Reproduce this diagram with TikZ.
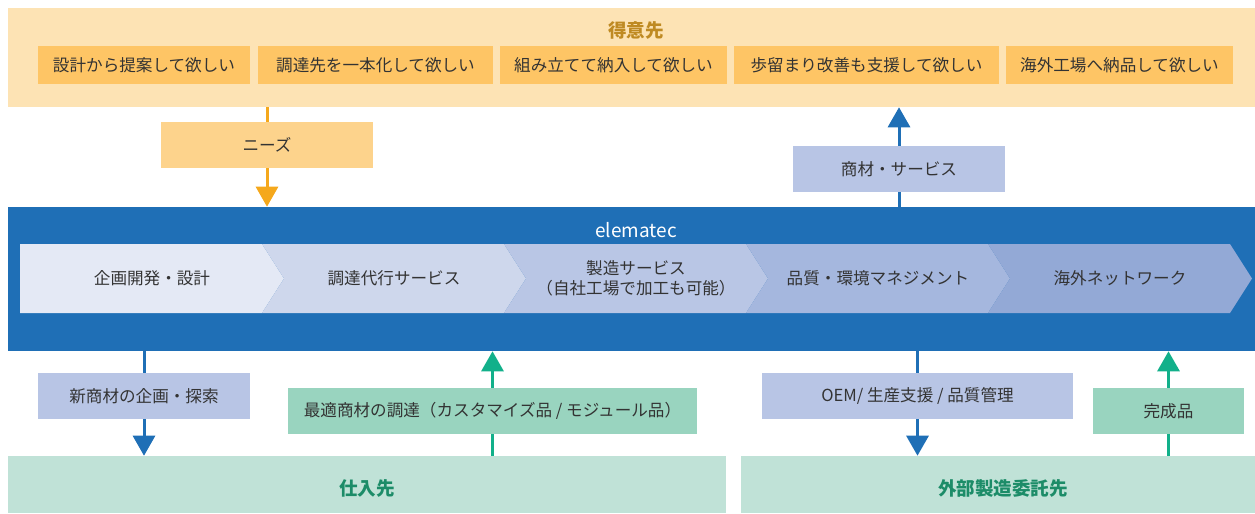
\documentclass[tikz,border=0pt]{standalone}
\usepackage{fontspec}
\setmainfont{Noto Sans CJK JP}
\usetikzlibrary{arrows.meta,backgrounds}

\definecolor{custbg}{HTML}{FDE3B4}
\definecolor{custitem}{HTML}{FEC565}
\definecolor{needfill}{HTML}{FDD38C}
\definecolor{custtitle}{HTML}{BF8A22}
\definecolor{needarrow}{HTML}{F5A81C}
\definecolor{elemblue}{HTML}{1F6FB6}
\definecolor{lavender}{HTML}{B8C5E5}
\definecolor{chevA}{HTML}{E4E9F5}
\definecolor{chevB}{HTML}{CED7EC}
\definecolor{chevC}{HTML}{B9C6E5}
\definecolor{chevD}{HTML}{A5B7DE}
\definecolor{chevE}{HTML}{93A9D6}
\definecolor{supbg}{HTML}{C0E2D7}
\definecolor{mint}{HTML}{99D4BF}
\definecolor{greenarrow}{HTML}{12B08A}
\definecolor{suptitle}{HTML}{1C8C68}
\definecolor{textgray}{HTML}{333333}

\newcommand{\px}{0.025cm}
\newcommand{\lblfont}{\fontsize{11.8pt}{14pt}\selectfont}
\newcommand{\ttlfont}{\fontsize{13.2pt}{15pt}\selectfont\bfseries}

\tikzset{
    rbox/.style={inner sep=0pt, text=textgray, font=\lblfont},
    band/.style={inner sep=0pt},
    custitembox/.style={rbox, fill=custitem, minimum height=38*\px},
    flowbox/.style={rbox, minimum height=46*\px},
    flowline/.style={line width=3*\px, -{Triangle[width=22*\px, length=20*\px]}},
}

\begin{document}
\begin{tikzpicture}[x=\px, y=-\px]
    \useasboundingbox (0,0) rectangle (1255,513);

    % customers
    \node[band, fill=custbg, minimum width=1247*\px, minimum height=99*\px] (custband) at (631.5,57.5) {};
    \node[text=custtitle, font=\ttlfont] (custtitle) at (636,30) {得意先};
    \node[custitembox, minimum width=212*\px] (wish1) at (144,65) {設計から提案して欲しい};
    \node[custitembox, minimum width=235*\px] (wish2) at (375.5,65) {調達先を一本化して欲しい};
    \node[custitembox, minimum width=227*\px] (wish3) at (613.5,65) {組み立てて納入して欲しい};
    \node[custitembox, minimum width=265*\px] (wish4) at (866.5,65) {歩留まり改善も支援して欲しい};
    \node[custitembox, minimum width=227*\px] (wish5) at (1119.5,65) {海外工場へ納品して欲しい};

    % elematec
    \node[band, fill=elemblue, minimum width=1247*\px, minimum height=144*\px] (mainband) at (631.5,279) {};
    \node[text=white, font=\fontsize{13.5pt}{15pt}\selectfont] (elemtitle) at (636,230) {elematec};
    \foreach \i/\nd/\col/\txt in {0/0/chevA/{企画開発・設計},
                                1/22/chevB/{調達代行サービス},
                                2/22/chevC/{製造サービス\\（自社工場で加工も可能）},
                                3/22/chevD/{品質・環境マネジメント},
                                4/22/chevE/{海外ネットワーク}} {
        \pgfmathsetmacro{\L}{20+242*\i}
        \fill[\col] (\L,244) -- (\L+242,244) -- (\L+264,278.5) -- (\L+242,313)
            -- (\L,313) -- (\L+\nd,278.5) -- cycle;
        \node[rbox, align=center] (chev\i) at (\L+132,278.5) {\txt};
    }

    % suppliers and contractors
    \node[band, fill=supbg, minimum width=718*\px, minimum height=57*\px] (supband) at (367,484.5) {};
    \node[text=suptitle, font=\ttlfont] (suptitle) at (367,488) {仕入先};
    \node[band, fill=supbg, minimum width=514*\px, minimum height=57*\px] (extband) at (998,484.5) {};
    \node[text=suptitle, font=\ttlfont] (exttitle) at (1003,488) {外部製造委託先};

    % flows
    \node[flowbox, fill=needfill, minimum width=212*\px] (needs) at (267,145) {ニーズ};
    \node[flowbox, fill=lavender, minimum width=212*\px] (goods) at (899,169) {商材・サービス};
    \node[flowbox, fill=lavender, minimum width=212*\px] (plan) at (144,396) {新商材の企画・探索};
    \node[flowbox, fill=mint, minimum width=409*\px] (procure) at (492.5,411) {最適商材の調達（カスタマイズ品 / モジュール品）};
    \node[flowbox, fill=lavender, minimum width=311*\px] (oem) at (917.5,396) {OEM/ 生産支援 / 品質管理};
    \node[flowbox, fill=mint, minimum width=151*\px] (done) at (1168.5,411) {完成品};

    \begin{scope}[on background layer]
        \draw[flowline, needarrow] (custband.south -| needs) -- (mainband.north -| needs);
        \draw[flowline, elemblue] (mainband.north -| goods) -- (custband.south -| goods);
        \draw[flowline, elemblue] (mainband.south -| plan) -- (supband.north -| plan);
        \draw[flowline, greenarrow] (supband.north -| procure) -- (mainband.south -| procure);
        \draw[flowline, elemblue] (mainband.south -| oem) -- (extband.north -| oem);
        \draw[flowline, greenarrow] (extband.north -| done) -- (mainband.south -| done);
    \end{scope}
\end{tikzpicture}
\end{document}
